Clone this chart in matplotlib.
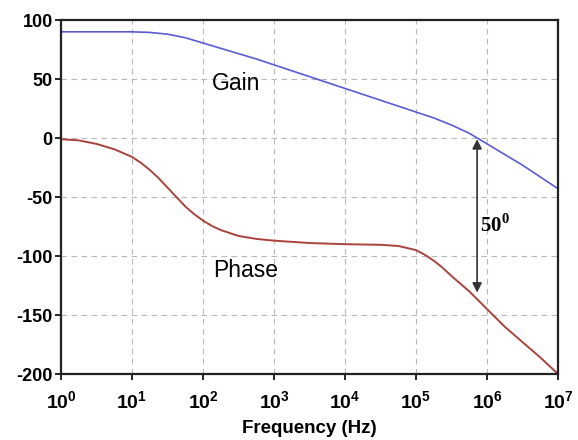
import matplotlib.pyplot as plt
import numpy as np

plt.rcParams['font.family'] = ['Liberation Sans', 'DejaVu Sans']
plt.rcParams['mathtext.fontset'] = 'custom'
plt.rcParams['mathtext.rm'] = 'Liberation Sans:bold'
plt.rcParams['mathtext.bf'] = 'Liberation Sans:bold'

# log10 of frequency
gain_logf = [0, 0.25, 0.5, 0.75, 1, 1.25, 1.5, 1.75, 2, 2.25, 2.5, 2.75, 3, 3.25, 3.5,
             3.75, 4, 4.25, 4.5, 4.75, 5, 5.25, 5.5, 5.75, 6, 6.25, 6.5, 6.75, 7]
gain_db = [90, 90, 90, 90, 90, 89.5, 88, 85, 80.5, 76, 71.5, 67, 62, 57, 52,
           47, 42, 37, 32, 27, 22, 17, 11, 4, -5, -14, -23, -33, -43]

phase_logf = [0, 0.25, 0.5, 0.75, 1, 1.125, 1.25, 1.375, 1.5, 1.625, 1.75, 1.875, 2,
              2.125, 2.25, 2.5, 2.75, 3, 3.5, 4, 4.5, 4.75, 5, 5.125, 5.25, 5.375,
              5.5, 5.625, 5.75, 6, 6.25, 6.5, 6.75, 7]
phase_deg = [-1, -2, -5, -9.5, -16, -21, -27, -34, -42, -50, -58, -64.5, -70,
             -74.5, -78, -83, -85.5, -87, -89, -90, -90.5, -91.5, -95, -99, -104, -110,
             -117, -123.5, -130, -145, -160, -173, -186, -200]

decades = [0, 1, 2, 3, 4, 5, 6, 7]
yticks = [-200, -150, -100, -50, 0, 50, 100]

fig = plt.figure(figsize=(5.78, 4.40), dpi=100)
ax = fig.add_axes([0.1055, 0.15, 0.86, 0.8045])

ax.plot(10.0 ** np.array(gain_logf), gain_db, color='#5b5bd6', lw=1.2)
ax.plot(10.0 ** np.array(phase_logf), phase_deg, color='#a8443c', lw=1.4)

ax.set_xscale('log')
ax.set_xlim(1, 1e7)
ax.set_ylim(-200, 100)
ax.set_xticks([10.0 ** d for d in decades])
ax.set_xticklabels([r'$\mathbf{10^{%d}}$' % d for d in decades], fontsize=14)
ax.minorticks_off()
ax.set_yticks(yticks)
ax.set_yticklabels([str(v) for v in yticks], fontsize=13, fontweight='bold')
ax.tick_params(direction='out', length=4, width=1.2)
ax.tick_params(axis='x', pad=8)
ax.tick_params(axis='y', pad=2)
ax.grid(True, color='#b8b8b8', ls=(0, (5, 4)), lw=0.8)
for s in ax.spines.values():
    s.set_linewidth(1.6)
    s.set_color('#222222')

ax.set_xlabel('Frequency (Hz)', fontsize=13.5, fontweight='bold', labelpad=5)

ax.text(10 ** 2.47, 46, 'Gain', fontsize=16.5, ha='center', va='center')
ax.text(10 ** 2.6, -112, 'Phase', fontsize=16.5, ha='center', va='center')

x_arrow = 10 ** 5.86
ax.annotate('', xy=(x_arrow, -1), xytext=(x_arrow, -131),
            arrowprops=dict(arrowstyle='<|-|>', color='#333333', lw=1.2,
                            mutation_scale=14, shrinkA=0, shrinkB=0))
ax.text(10 ** 5.9, -74, r'50$^{\mathregular{0}}$', fontsize=15, fontweight='bold',
        family='Liberation Serif', ha='left', va='center')

fig.savefig('out.png', dpi=100)
